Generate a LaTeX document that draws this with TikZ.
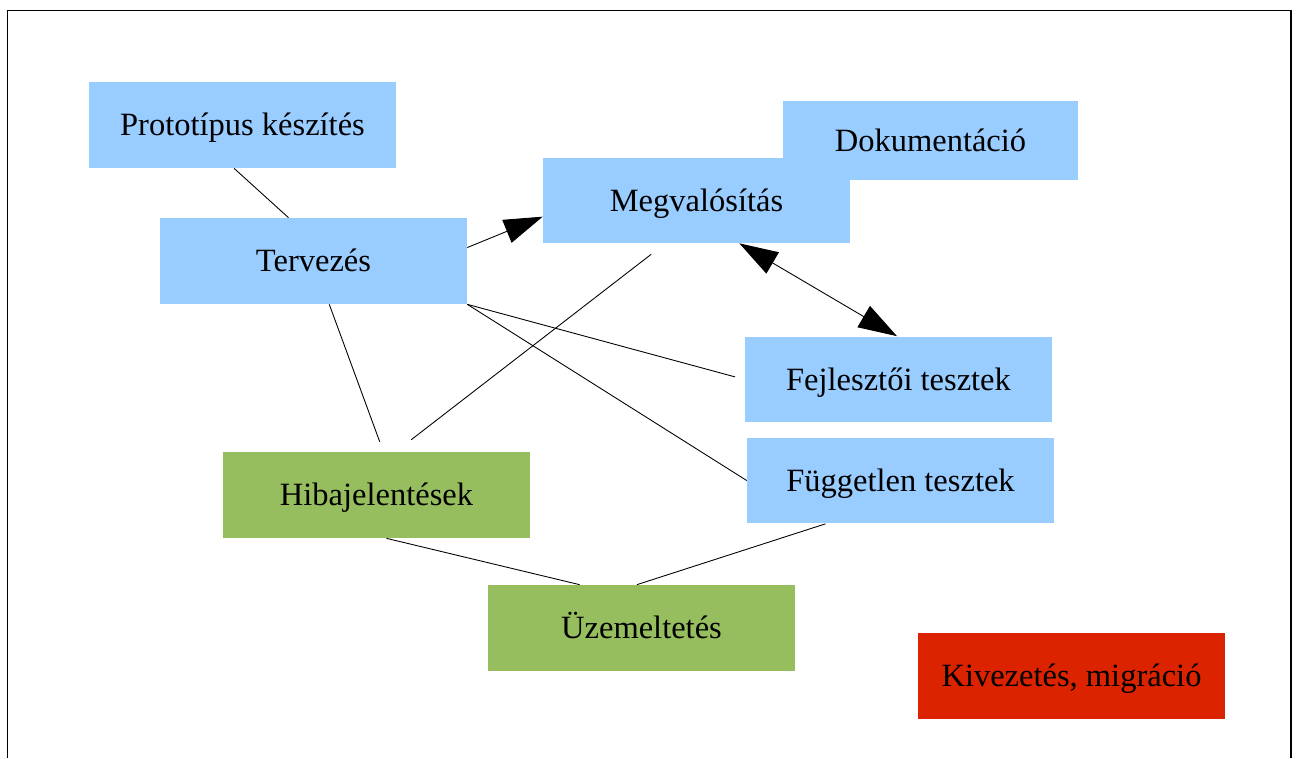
\documentclass[tikz,border=0pt]{standalone}
\usepackage{fontspec}
\setmainfont{Liberation Serif}
\usetikzlibrary{arrows.meta}
\definecolor{tblue}{HTML}{99CCFF}
\definecolor{tgreen}{HTML}{97BE5E}
\definecolor{tred}{HTML}{DC2300}

\begin{document}
\begin{tikzpicture}[x=0.02cm,y=-0.02cm,
    box/.style={fill=#1,minimum width=6.14cm,minimum height=1.72cm,inner sep=0pt,
      text height=15.4pt,text depth=3pt,font=\fontsize{18.5}{22}\selectfont},
    conn/.style={black,line width=0.5pt},
    bigtip/.style={-{Triangle[length=22pt,width=14pt]}},
    bigtips/.style={{Triangle[length=22pt,width=14pt]}-{Triangle[length=22pt,width=14pt]}}]
  \useasboundingbox (0,0) rectangle (1296,758);
  \draw [line width=0.8pt] (7.5,758) -- (7.5,10.5) -- (1291,10.5) -- (1291,758);
  % boxes
  \node [box=tblue] (proto) at (242.5,125) {Prototípus készítés};
  \node [box=tblue] (terv) at (313.5,261) {Tervezés};
  \node [box=tblue,minimum width=5.9cm,minimum height=1.58cm] (doku) at (930.5,140.5) {Dokumentáció};
  \node [box=tblue,minimum height=1.7cm] (megv) at (696.5,200.5) {Megvalósítás};
  \node [box=tblue] (fejl) at (898.5,379.5) {Fejlesztői tesztek};
  \node [box=tblue] (fugg) at (900.5,480.5) {Független tesztek};
  \node [box=tgreen] (hiba) at (376.5,495) {Hibajelentések};
  \node [box=tgreen] (uzem) at (641.5,628) {Üzemeltetés};
  \node [box=tred] (kivez) at (1071.5,676) {Kivezetés, migráció};
  % connections
  \draw [conn] (proto.-101) -- (terv.120);
  \draw [conn,bigtip] (terv.5) -- (megv.186);
  \draw [conn,bigtips] (megv.-45) -- (fejl.92);
  \draw [conn,shorten >=0.2cm] (terv.south east) -- (fejl.west);
  \draw [conn] (terv.south east) -- (fugg.west);
  \draw [conn,shorten >=0.21cm] (terv.-70) -- (hiba.81);
  \draw [conn,shorten <=0.36cm,shorten >=0.39cm] (megv.-126.5) -- (hiba.66);
  \draw [conn] (hiba.-77.5) -- (uzem.145.5);
  \draw [conn] (fugg.-150) -- (uzem.96);
\end{tikzpicture}
\end{document}
